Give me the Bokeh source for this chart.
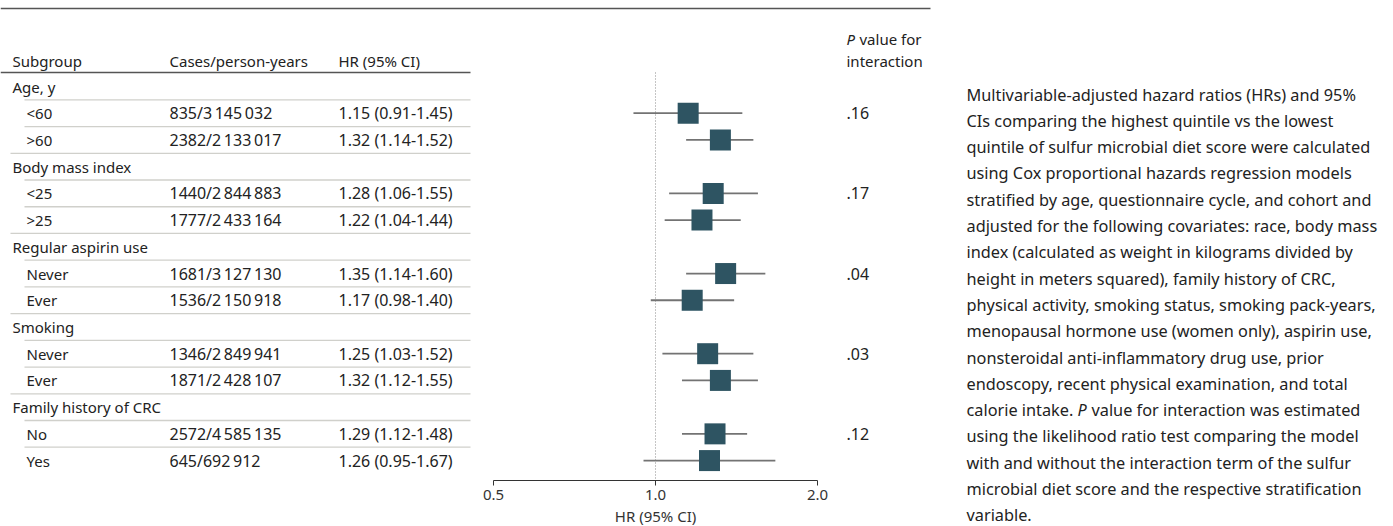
from bokeh.plotting import figure
from bokeh.models import (Range1d, LogScale, LogAxis, FixedTicker, PrintfTickFormatter,
                          ColumnDataSource)
from bokeh.core.properties import value
from bokeh.embed import file_html
from bokeh.resources import INLINE

# ---------------- data ----------------
col_headers = ["Subgroup", "Cases/person-years", "HR (95% CI)"]
p_header = ["P", "value for", "interaction"]
groups = ["Age, y", "Body mass index", "Regular aspirin use", "Smoking", "Family history of CRC"]
subgroups = [["<60", ">60"], ["<25", ">25"], ["Never", "Ever"], ["Never", "Ever"], ["No", "Yes"]]
cases = ["835/3\u2009145\u2009032", "2382/2\u2009133\u2009017",
         "1440/2\u2009844\u2009883", "1777/2\u2009433\u2009164",
         "1681/3\u2009127\u2009130", "1536/2\u2009150\u2009918",
         "1346/2\u2009849\u2009941", "1871/2\u2009428\u2009107",
         "2572/4\u2009585\u2009135", "645/692\u2009912"]
hr = [1.15, 1.32, 1.28, 1.22, 1.35, 1.17, 1.25, 1.32, 1.29, 1.26]
ci_low = [0.91, 1.14, 1.06, 1.04, 1.14, 0.98, 1.03, 1.12, 1.12, 0.95]
ci_high = [1.45, 1.52, 1.55, 1.44, 1.60, 1.40, 1.52, 1.55, 1.48, 1.67]
p_interaction = [".16", ".17", ".04", ".03", ".12"]
x_ticks = [0.5, 1.0, 2.0]
axis_title = "HR (95% CI)"
caption_lines = [
    "Multivariable-adjusted hazard ratios (HRs) and 95%",
    "CIs comparing the highest quintile vs the lowest",
    "quintile of sulfur microbial diet score were calculated",
    "using Cox proportional hazards regression models",
    "stratified by age, questionnaire cycle, and cohort and",
    "adjusted for the following covariates: race, body mass",
    "index (calculated as weight in kilograms divided by",
    "height in meters squared), family history of CRC,",
    "physical activity, smoking status, smoking pack-years,",
    "menopausal hormone use (women only), aspirin use,",
    "nonsteroidal anti-inflammatory drug use, prior",
    "endoscopy, recent physical examination, and total",
    ["calorie intake.", "P", "value for interaction was estimated"],
    "using the likelihood ratio test comparing the model",
    "with and without the interaction term of the sulfur",
    "microbial diet score and the respective stratification",
    "variable.",
]

# ---------------- layout constants (screen px) ----------------
W, H = 1393, 526
AXIS_Y = 480                  # screen y of the HR axis line
AX_L, AX_R = 493, 817         # screen x of 0.5 and 2.0
ROW0, PITCH = 86.0, 26.72
CAP_X, CAP_Y0, CAP_PITCH = 966, 94.0, 26.3
FONT = value("Noto Sans")
FS = "15px"
FS_NUM = "16px"
FS_CAP = "16.3px"
TXT = "#222222"
RULE = "#555555"
SEP = "#d0d0cb"
BOX = "#2e5462"
CI_COL = "#737373"


def hr_at(sx):
    return x_ticks[0] * (x_ticks[-1] / x_ticks[0]) ** ((sx - AX_L) / (AX_R - AX_L))


p = figure(width=W, height=H, x_range=Range1d(0, W), y_range=Range1d(H, 0),
           x_axis_location=None, y_axis_location=None, toolbar_location=None,
           output_backend="svg", min_border_left=0, min_border_right=0, min_border_top=0,
           min_border_bottom=0, outline_line_color=None,
           background_fill_color="white", border_fill_color="white")
p.xgrid.visible = False
p.ygrid.visible = False
p.extra_x_ranges = {"hr": Range1d(hr_at(0), hr_at(W))}
p.extra_x_scales = {"hr": LogScale()}

# ---------------- HR axis ----------------
ax = LogAxis(x_range_name="hr", bounds=(x_ticks[0], x_ticks[-1]),
             ticker=FixedTicker(ticks=x_ticks), formatter=PrintfTickFormatter(format="%.1f"),
             axis_label=axis_title, fixed_location=AXIS_Y)
ax.major_tick_out = 5
ax.major_tick_in = 0
ax.minor_tick_out = 0
ax.minor_tick_in = 0
ax.axis_line_color = "#333333"
ax.axis_line_width = 1.2
ax.major_tick_line_color = "#333333"
ax.major_label_standoff = 4
ax.major_label_text_font = "Noto Sans"
ax.major_label_text_font_size = "15px"
ax.major_label_text_color = "#333333"
ax.axis_label_standoff = 3
ax.axis_label_text_font = "Noto Sans"
ax.axis_label_text_font_size = "15px"
ax.axis_label_text_font_style = "normal"
ax.axis_label_text_color = "#333333"
p.add_layout(ax, "below")

# ---------------- rules & headers ----------------
p.segment(x0=[0], x1=[930], y0=[8], y1=[8], line_color=RULE, line_width=1.6)
p.segment(x0=[0], x1=[470], y0=[72], y1=[72], line_color=RULE, line_width=1.6)
p.text(x=[12, 169, 338], y=[60] * 3, text=col_headers, text_font=FONT, text_font_size=FS,
       text_color=TXT, text_baseline="middle")
p.text(x=[846], y=[38], text=[p_header[0]], text_font=FONT, text_font_size=FS,
       text_font_style="italic", text_color=TXT, text_baseline="middle")
p.text(x=[859], y=[38], text=[p_header[1]], text_font=FONT, text_font_size=FS,
       text_color=TXT, text_baseline="middle")
p.text(x=[846], y=[60], text=[p_header[2]], text_font=FONT, text_font_size=FS,
       text_color=TXT, text_baseline="middle")

# ---------------- table rows ----------------
lab, lab_x, lab_y = [], [], []
sub_y, p_y = [], []
sep_x0, sep_y = [], []
r = 0
nrows = len(groups) + sum(len(s) for s in subgroups)
for g, subs in zip(groups, subgroups):
    y = ROW0 + r * PITCH
    lab.append(g); lab_x.append(12); lab_y.append(y)
    sep_x0.append(24); sep_y.append(y + PITCH / 2)
    r += 1
    for k, s in enumerate(subs):
        y = ROW0 + r * PITCH
        lab.append(s); lab_x.append(26); lab_y.append(y)
        sub_y.append(y)
        if k == 0:
            p_y.append(y)
        if r < nrows - 1:
            sep_x0.append(24 if k < len(subs) - 1 else 10)
            sep_y.append(y + PITCH / 2)
        r += 1

p.segment(x0=sep_x0, x1=[470] * len(sep_x0), y0=sep_y, y1=sep_y,
          line_color=SEP, line_width=1.3)
p.text(x=lab_x, y=lab_y, text=lab, text_font=FONT, text_font_size=FS,
       text_color=TXT, text_baseline="middle")
hr_txt = [f"{h:.2f} ({l:.2f}-{u:.2f})" for h, l, u in zip(hr, ci_low, ci_high)]
p.text(x=[169] * len(cases), y=sub_y, text=cases, text_font=FONT, text_font_size=FS_NUM,
       text_color=TXT, text_baseline="middle")
p.text(x=[338] * len(hr_txt), y=sub_y, text=hr_txt, text_font=FONT, text_font_size=FS_NUM,
       text_color=TXT, text_baseline="middle")
p.text(x=[846] * len(p_interaction), y=p_y, text=p_interaction, text_font=FONT,
       text_font_size=FS_NUM, text_color=TXT, text_baseline="middle")

# ---------------- forest plot ----------------
p.segment(x0=[1.0], x1=[1.0], y0=[72], y1=[AXIS_Y], x_range_name="hr",
          line_color="#8a8a8a", line_width=1, line_dash="1 2")
src = ColumnDataSource(dict(hr=hr, lo=ci_low, hi=ci_high, y=sub_y))
p.segment(x0="lo", x1="hi", y0="y", y1="y", source=src, x_range_name="hr",
          line_color=CI_COL, line_width=1.8)
p.scatter(x="hr", y="y", source=src, x_range_name="hr", marker="square", size=21,
          fill_color=BOX, line_color=None)

# ---------------- caption ----------------
plain_x, plain_y, plain_t = [], [], []
for i, line in enumerate(caption_lines):
    y = CAP_Y0 + i * CAP_PITCH
    if isinstance(line, list):
        p.text(x=[CAP_X], y=[y], text=[line[0]], text_font=FONT, text_font_size=FS_CAP,
               text_color=TXT, text_baseline="middle")
        p.text(x=[CAP_X + 111], y=[y], text=[line[1]], text_font=FONT, text_font_size=FS_CAP,
               text_font_style="italic", text_color=TXT, text_baseline="middle")
        p.text(x=[CAP_X + 125], y=[y], text=[line[2]], text_font=FONT, text_font_size=FS_CAP,
               text_color=TXT, text_baseline="middle")
    else:
        plain_x.append(CAP_X); plain_y.append(y); plain_t.append(line)
p.text(x=plain_x, y=plain_y, text=plain_t, text_font=FONT, text_font_size=FS_CAP,
       text_color=TXT, text_baseline="middle")

open("out.html", "w").write(file_html(p, INLINE))
